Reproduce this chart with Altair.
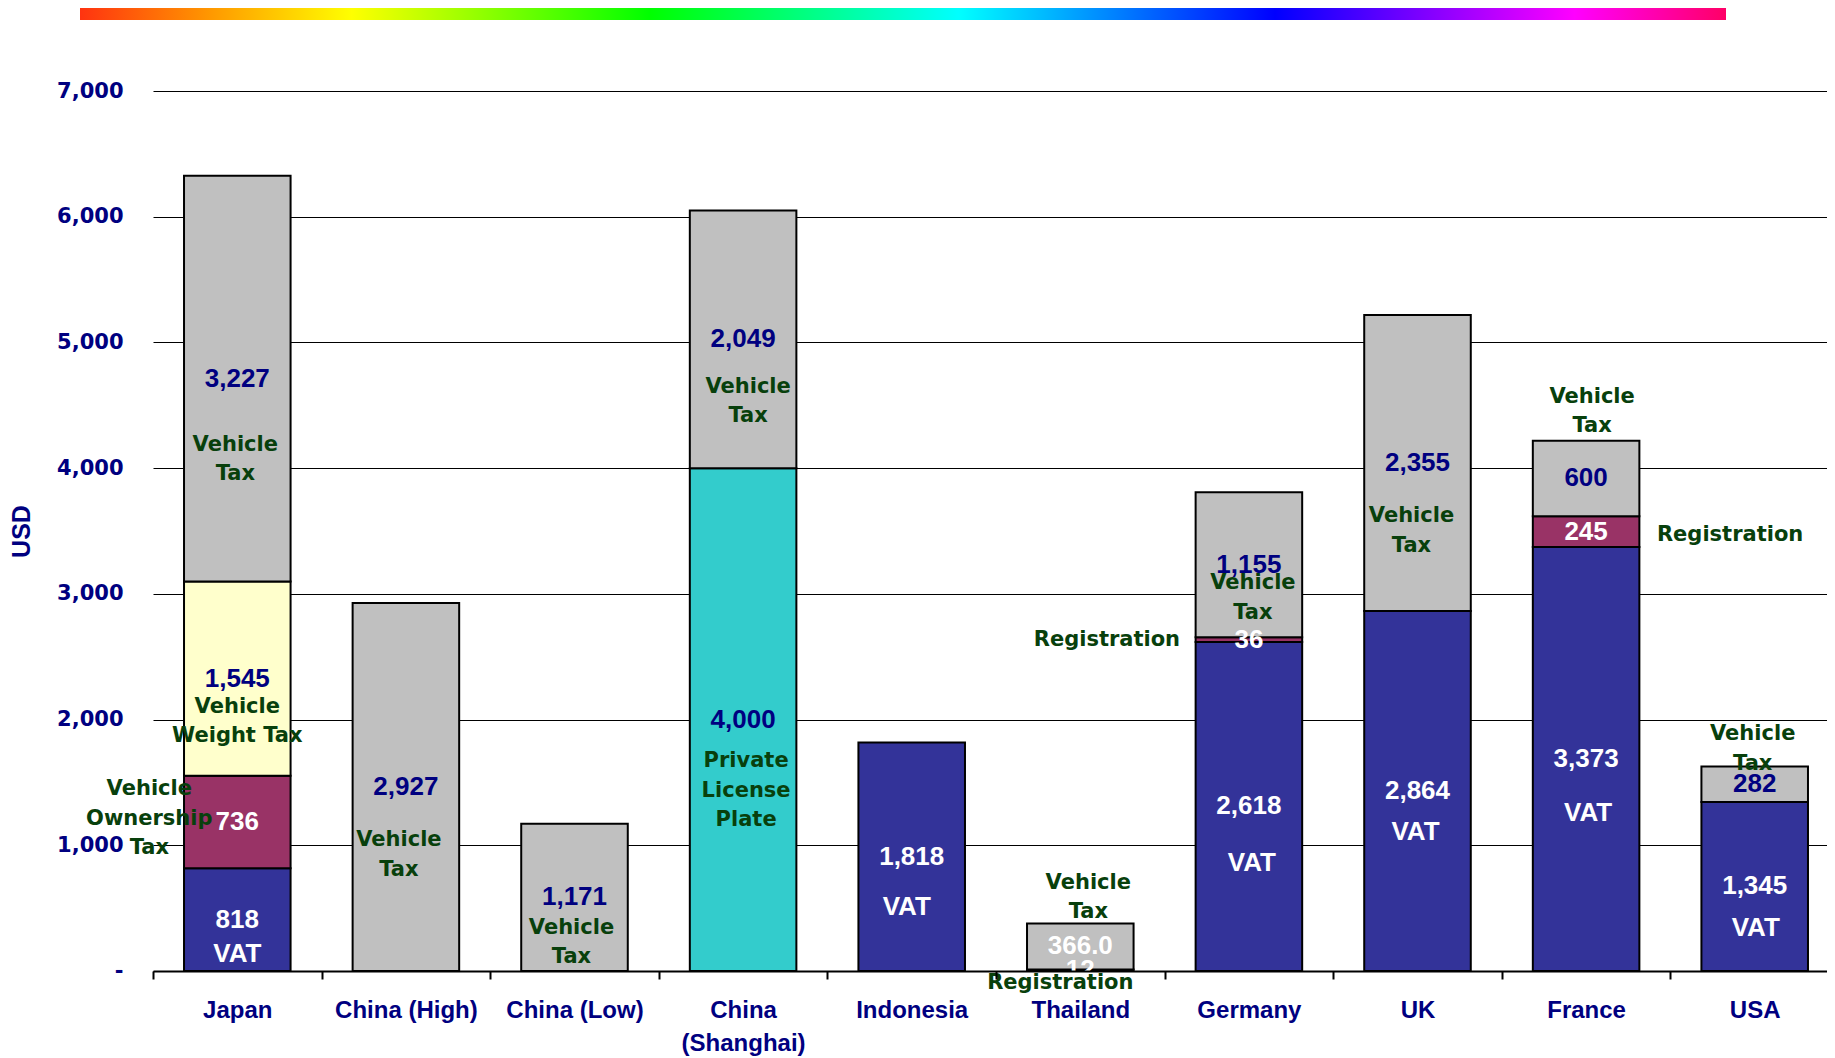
import altair as alt
import pandas as pd

# ---------------- data ----------------
countries = ["Japan", "China (High)", "China (Low)", "China (Shanghai)", "Indonesia",
             "Thailand", "Germany", "UK", "France", "USA"]
series = ["VAT", "Vehicle Ownership Tax", "Registration", "Vehicle Weight Tax",
          "Private License Plate", "Vehicle Tax"]

vat = [818, 0, 0, 0, 1818, 0, 2618, 2864, 3373, 1345]
ownership_tax = [736, 0, 0, 0, 0, 0, 0, 0, 0, 0]
registration = [0, 0, 0, 0, 0, 12, 36, 0, 245, 0]
weight_tax = [1545, 0, 0, 0, 0, 0, 0, 0, 0, 0]
license_plate = [0, 0, 0, 4000, 0, 0, 0, 0, 0, 0]
vehicle_tax = [3227, 2927, 1171, 2049, 0, 366, 1155, 2355, 600, 282]

y_ticks = [0, 1000, 2000, 3000, 4000, 5000, 6000, 7000]

# label text overrides (as printed in the source)
text_override = {("Thailand", "Vehicle Tax"): "366.0"}
light_value_series = {"VAT", "Vehicle Ownership Tax", "Registration"}
light_value_extra = {("Thailand", "Vehicle Tax")}

# series-name annotations: (country, series, lines, dx px, dy px of block centre below segment middle)
name_notes = [
    ("Japan", "Vehicle Ownership Tax", ["Vehicle", "Ownership", "Tax"], -88, -3),
    ("Japan", "Vehicle Weight Tax", ["Vehicle", "Weight Tax"], 0, 43),
    ("Japan", "Vehicle Tax", ["Vehicle", "Tax"], -2, 81),
    ("China (High)", "Vehicle Tax", ["Vehicle", "Tax"], -7, 68),
    ("China (Low)", "Vehicle Tax", ["Vehicle", "Tax"], -3, 45),
    ("China (Shanghai)", "Private License Plate", ["Private", "License", "Plate"], 3, 71),
    ("China (Shanghai)", "Vehicle Tax", ["Vehicle", "Tax"], 5, 62),
    ("Thailand", "Registration", ["Registration"], -20, 13),
    ("Thailand", "Vehicle Tax", ["Vehicle", "Tax"], 8, -49),
    ("Germany", "Registration", ["Registration"], -142, 0),
    ("Germany", "Vehicle Tax", ["Vehicle", "Tax"], 4, 33),
    ("UK", "Vehicle Tax", ["Vehicle", "Tax"], -6, 68),
    ("France", "Registration", ["Registration"], 144, 3),
    ("France", "Vehicle Tax", ["Vehicle", "Tax"], 6, -67),
    ("USA", "Vehicle Tax", ["Vehicle", "Tax"], -2, -35),
]
vat_notes = [("Japan", 0, 34), ("Indonesia", -5, 50), ("Germany", 3, 57),
             ("UK", -2, 41), ("France", 2, 54), ("USA", 1, 42)]

series_colors = ["#333399", "#993366", "#993366", "#FFFFCC", "#33CCCC", "#C0C0C0"]
NAVY = "#000080"
GREEN = "#08400C"

W, H = 1674, 880          # visible plot area (right part is cut off by the page edge)
X_RANGE = 1686            # full extent of the category scale
Y_MAX = 7000
PX = Y_MAX / H            # data units per pixel
HALF_STEP = X_RANGE / len(countries) / 2
LINE_H = 29.5

# ---------------- tables ----------------
values_by_series = [vat, ownership_tax, registration, weight_tax, license_plate, vehicle_tax]
rows = []
for i, c in enumerate(countries):
    start = 0
    for j, s in enumerate(series):
        v = values_by_series[j][i]
        if v > 0:
            tone = "light" if (s in light_value_series or (c, s) in light_value_extra) else "dark"
            rows.append(dict(country=c, series=s, order=j, value=v,
                             mid=start + v / 2,
                             label=text_override.get((c, s), f"{v:,}"),
                             tone=tone))
            start += v
bars = pd.DataFrame(rows)
mid_of = {(r.country, r.series): r.mid for r in bars.itertuples()}

names = pd.DataFrame([
    dict(country=c,
         pos=mid_of[(c, s)] - (dy - (len(lines) - 1) * LINE_H / 2) * PX,
         text=lines, dx=dx + HALF_STEP)
    for c, s, lines, dx, dy in name_notes])
vats = pd.DataFrame([dict(country=c, pos=mid_of[(c, "VAT")] - dy * PX, text="VAT",
                          dx=dx + HALF_STEP)
                     for c, dx, dy in vat_notes])

x_scale = alt.Scale(domain=countries, paddingInner=0, paddingOuter=0, range=[0, X_RANGE])
y_scale = alt.Scale(domain=[0, Y_MAX], nice=False)

x_axis = alt.Axis(
    title=None, labelAngle=0, domainColor="black", domainWidth=2,
    tickColor="black", tickWidth=2, tickSize=8, tickBand="extent", grid=False,
    labelColor=NAVY, labelFont="Liberation Sans Narrow, Liberation Sans, Arial",
    labelFontSize=24, labelFontWeight="bold", labelPadding=19, labelLineHeight=33,
    labelExpr="datum.label == 'China (Shanghai)' ? ['China', '(Shanghai)'] : datum.label",
    zindex=1,
)
y_axis = alt.Axis(
    title="USD", values=y_ticks, domain=False, ticks=False, grid=True,
    gridColor="black", gridWidth=1.2,
    labelColor=NAVY, labelFont="DejaVu Sans", labelFontSize=21, labelFontWeight="bold",
    labelPadding=30, labelExpr="datum.value == 0 ? '-' : format(datum.value, ',')",
    titleColor=NAVY, titleFont="Liberation Sans", titleFontSize=25, titleFontWeight="bold",
    titleX=-132, titleY=H / 2, titleBaseline="middle", titleAngle=-90,
)


def X():
    return alt.X("country:N", sort=countries, scale=x_scale, axis=x_axis)


def Y(field):
    return alt.Y(field, scale=y_scale, axis=y_axis)


bar_layer = alt.Chart(bars).mark_bar(stroke="black", strokeWidth=2,
                                     width={"band": 0.632}).encode(
    x=X(),
    y=alt.Y("value:Q", stack="zero", scale=y_scale, axis=y_axis),
    color=alt.Color("series:N", scale=alt.Scale(domain=series, range=series_colors), legend=None),
    order=alt.Order("order:Q"),
)

value_base = alt.Chart(bars).encode(x=X(), y=Y("mid:Q"), text="label:N")
value_light = value_base.transform_filter(alt.datum.tone == "light").mark_text(
    font="Liberation Sans", fontSize=26, fontWeight="bold", baseline="middle",
    align="center", color="white")
value_dark = value_base.transform_filter(alt.datum.tone == "dark").mark_text(
    font="Liberation Sans", fontSize=26, fontWeight="bold", baseline="middle",
    align="center", color=NAVY)

vat_layer = alt.Chart(vats).mark_text(font="Liberation Sans", fontSize=26, fontWeight="bold",
                                      baseline="middle", align="center", color="white").encode(
    x=X(), y=Y("pos:Q"),
    xOffset=alt.XOffset("dx:Q", scale=None),
    text="text:N",
)

name_layer = alt.Chart(names).mark_text(font="DejaVu Sans", fontSize=21, fontWeight="bold",
                                        baseline="middle", align="center", color=GREEN,
                                        lineHeight=LINE_H).encode(
    x=X(), y=Y("pos:Q"),
    xOffset=alt.XOffset("dx:Q", scale=None),
    text="text",
)

gradient = {
    "gradient": "linear", "x1": 0, "x2": 1, "y1": 0, "y2": 0,
    "stops": [
        {"offset": 0.0, "color": "#FF3310"},
        {"offset": 0.08, "color": "#FF9900"},
        {"offset": 0.165, "color": "#FFFF00"},
        {"offset": 0.346, "color": "#00FF00"},
        {"offset": 0.534, "color": "#00FFFF"},
        {"offset": 0.726, "color": "#0000FF"},
        {"offset": 0.908, "color": "#FF00FF"},
        {"offset": 1.0, "color": "#FF0066"},
    ],
}
band_layer = alt.Chart(pd.DataFrame({"k": [0]})).mark_rect(fill=gradient, strokeWidth=0).encode(
    x=alt.value(-73), x2=alt.value(1573), y=alt.value(-86), y2=alt.value(-71)
)

chart = alt.layer(bar_layer, value_dark, value_light, name_layer, vat_layer, band_layer).properties(
    width=W, height=H,
    autosize=alt.AutoSizeParams(type="none"),
    padding={"left": 145, "top": 83, "right": 0, "bottom": 86},
    background="white",
).configure_view(stroke=None)

chart.save("out.html", embed_options={"renderer": "svg", "actions": False})
